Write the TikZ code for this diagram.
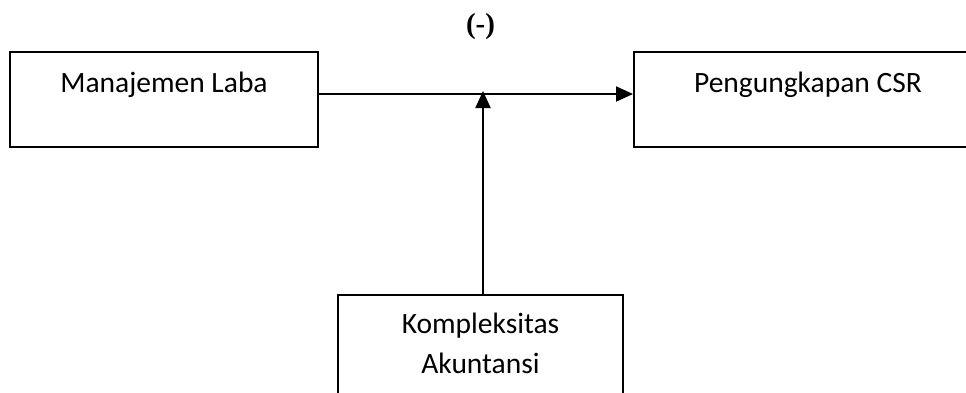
\documentclass[tikz,border=0pt]{standalone}
\usepackage{fontspec}
\setmainfont{Carlito}
\newfontfamily\serifbold{Liberation Serif}
\usetikzlibrary{arrows.meta}
\begin{document}
\begin{tikzpicture}[x=1pt,y=-1pt,
  varbox/.style={draw=black, line width=2pt, inner sep=0pt, fill=white},
  boxtext/.style={anchor=base, font=\fontsize{29.5}{40}\selectfont, inner sep=0pt},
  link/.style={line width=2pt, -{Triangle[length=17pt,width=15pt]}}]
  \clip (0,0) rectangle (966,392);
  \fill[white] (0,0) rectangle (966,392);

  % variable boxes
  \node[varbox, minimum width=308pt, minimum height=95pt] (ml) at (164,99.5) {};
  \node[varbox, minimum width=348pt, minimum height=95pt] (csr) at (808,99.5) {};
  \node[varbox, minimum width=285pt, minimum height=120pt] (ka) at (480.5,355) {};

  % box captions
  \node[boxtext] (mltext) at (164,92) {Manajemen Laba};
  \node[boxtext] (csrtext) at (808,92) {Pengungkapan CSR};
  \node[boxtext] (katext1) at (480.5,333) {Kompleksitas};
  \node[boxtext] (katext2) at (480.5,373) {Akuntansi};

  % relationship sign
  \node[font=\serifbold\bfseries\fontsize{29}{32}\selectfont, inner sep=0pt] (sign) at (480.5,27) {(-)};

  % direct effect and moderating effect
  \draw[link] (ml.east |- 0,94) -- (csr.west |- 0,94);
  \coordinate (mod) at (483,91);
  \draw[link] (ka.north -| mod) -- (mod);
\end{tikzpicture}
\end{document}
